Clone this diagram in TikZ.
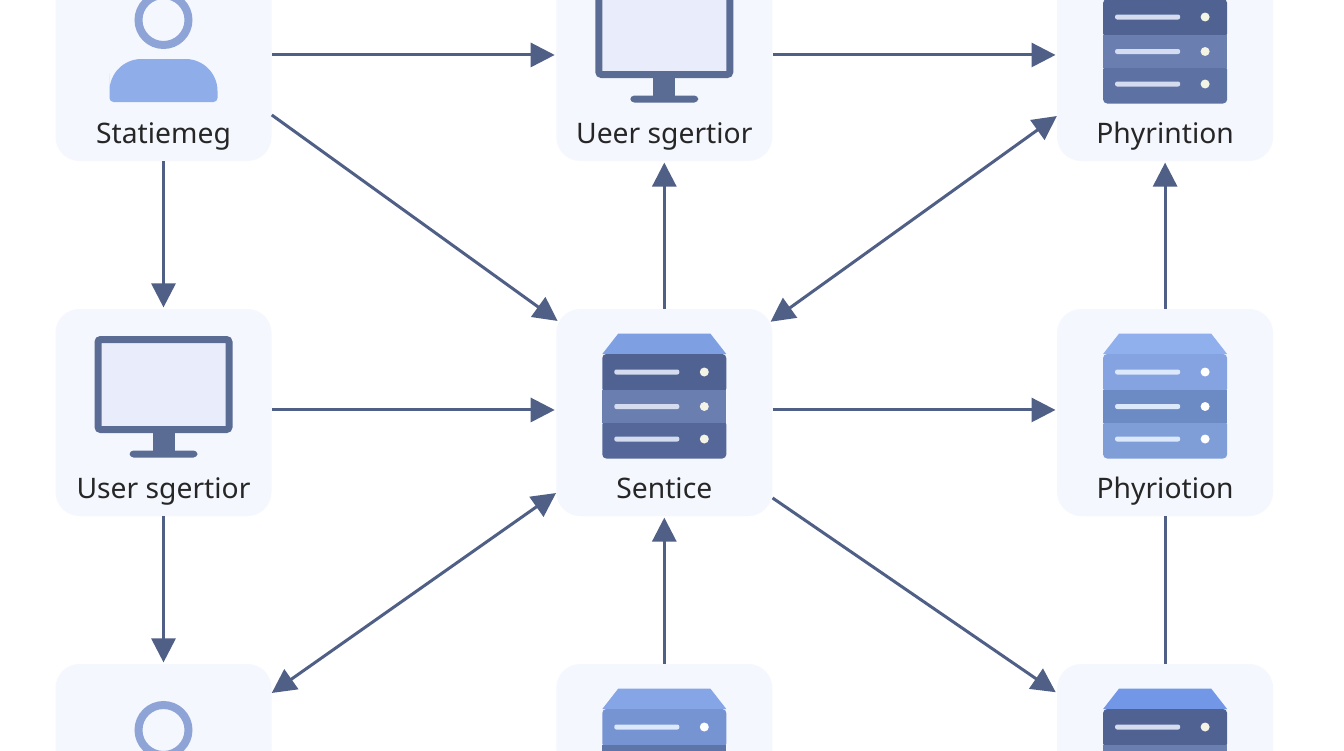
\documentclass[tikz,border=0pt]{standalone}
\usepackage{fontspec}
\setmainfont{Noto Sans}
\usetikzlibrary{arrows.meta,positioning}
\definecolor{tilefill}{HTML}{F4F7FE}
\definecolor{linkcol}{HTML}{505F86}
\definecolor{screencol}{HTML}{E9EDFB}
\definecolor{framecol}{HTML}{5A6B94}
\definecolor{ringcol}{HTML}{8EA3D6}
\definecolor{torsocol}{HTML}{8FADE9}
\definecolor{capa}{HTML}{7F9FE3}
\definecolor{capb}{HTML}{8FB0EC}
\definecolor{capc}{HTML}{86A5E6}
\definecolor{capd}{HTML}{7197E6}
\definecolor{navya}{HTML}{4F6291}
\definecolor{navyb}{HTML}{6A7EAF}
\definecolor{navyc}{HTML}{546798}
\definecolor{navyd}{HTML}{5D71A3}
\definecolor{navye}{HTML}{5E75AA}
\definecolor{palea}{HTML}{84A3E0}
\definecolor{paleb}{HTML}{6C8BC4}
\definecolor{palec}{HTML}{7F9ED8}
\definecolor{paled}{HTML}{7794D2}
\definecolor{slota}{HTML}{D5DCF0}
\definecolor{slotb}{HTML}{DCE8FB}
\definecolor{leda}{HTML}{F3F3E6}
\tikzset{
  tile/.style={fill=tilefill, rounded corners=18pt, minimum width=162pt, minimum height=155.25pt, inner sep=0pt},
  lbl/.style={font=\fontsize{21.2}{24}\selectfont, text=black!85, inner sep=0pt, text height=17pt, text depth=6pt},
  link/.style={line width=2.25pt, draw=linkcol},
  arrow/.style={link, -{Triangle[length=18pt,width=18pt]}, shorten >=1pt},
  twoway/.style={link, {Triangle[length=18pt,width=18pt]}-{Triangle[length=18pt,width=18pt]}},
  pics/server/.style args={#1/#2/#3/#4/#5/#6}{code={
    \fill[#1] (-62,-58.5) -- (-46,-79) -- (46,-79) -- (62,-58.5) -- cycle;
    \fill[#2, rounded corners=3pt] (-62,-58.5) rectangle (62,-20);
    \fill[#4, rounded corners=3pt] (-62,8) rectangle (62,46);
    \fill[#3] (-62,-22.5) rectangle (62,10.5);
    \foreach \y in {-40.5,-6,26.5} {
      \fill[#5, rounded corners=1.5pt] (-50,\y-2.5) rectangle (15,\y+2.5);
      \fill[#6] (40,\y) circle (4.5);
    }
  }},
  pics/monitor/.style={code={
    \fill[framecol] (-11,20) rectangle (11,40);
    \fill[framecol, rounded corners=3pt] (-34,38) rectangle (34,45);
    \draw[framecol, fill=screencol, line width=5.25pt, rounded corners=2pt] (-65.5,-73) rectangle (65.5,17);
  }},
  pics/person/.style={code={
    \draw[ringcol, line width=6pt] (0,-37.5) circle (25);
    \fill[torsocol] (-54,44.5) [rounded corners=3pt] -- (-54,20) [rounded corners=24pt] -- (-54,1.5) -- (54,1.5) [rounded corners=3pt] -- (54,44.5) -- cycle;
  }},
}

\begin{document}
\begin{tikzpicture}[x=0.75pt, y=-0.75pt, node distance=110.6pt and 213.2pt]
  \clip (0,0) rectangle (1344,750);
  \fill[white] (0,0) rectangle (1344,750);
  \node[tile] (stat) at (163.5,57.5) {};
  \node[tile, right=of stat] (usertop) {};
  \node[tile, right=of usertop] (phytop) {};
  \node[tile, below=of stat] (usermid) {};
  \node[tile, right=of usermid] (sentice) {};
  \node[tile, right=of sentice] (phymid) {};
  \node[tile, below=of usermid] (userlow) {};
  \node[tile, right=of userlow] (servlow) {};
  \node[tile, right=of servlow] (phylow) {};

  \pic at (stat) {person};
  \pic at (usertop) {monitor};
  \pic at (phytop) {server={capa/navya/navyb/navyd/slota/leda}};
  \pic at (usermid) {monitor};
  \pic at (sentice) {server={capa/navya/navyb/navyc/slota/leda}};
  \pic at (phymid) {server={capb/palea/paleb/palec/slotb/white}};
  \pic at (userlow) {person};
  \pic at (servlow) {server={capc/paled/navye/navye/slotb/white}};
  \pic at (phylow) {server={capd/navya/navyb/navyb/slota/leda}};

  \node[lbl, above=7.5pt of stat.south] (statlbl) {Statiemeg};
  \node[lbl, above=7.5pt of usertop.south] (usertoplbl) {Ueer sgertior};
  \node[lbl, above=7.5pt of phytop.south] (phytoplbl) {Phyrintion};
  \node[lbl, above=7.5pt of usermid.south] (usermidlbl) {User sgertior};
  \node[lbl, above=7.5pt of sentice.south] (senticelbl) {Sentice};
  \node[lbl, above=7.5pt of phymid.south] (phymidlbl) {Phyriotion};

  \draw[arrow] ([yshift=1.9pt]stat.east) -- ([yshift=1.9pt]usertop.west);
  \draw[arrow] ([yshift=1.9pt]usertop.east) -- ([yshift=1.9pt]phytop.west);
  \draw[arrow] ([yshift=1.9pt]usermid.east) -- ([yshift=1.9pt]sentice.west);
  \draw[arrow] ([yshift=1.9pt]sentice.east) -- ([yshift=1.9pt]phymid.west);
  \draw[arrow] (stat.south) -- (usermid.north);
  \draw[arrow] (usermid.south) -- (userlow.north);
  \draw[arrow] (sentice.north) -- (usertop.south);
  \draw[arrow] (servlow.north) -- (sentice.south);
  \draw[arrow] (phymid.north) -- (phytop.south);
  \draw[link] (phymid.south) -- (phylow.north);
  \draw[arrow] ([yshift=-43.1pt]stat.east) -- ([xshift=2pt,yshift=-9.75pt]sentice.north west);
  \draw[twoway] ([xshift=-1.5pt,yshift=-9.75pt]sentice.north east) -- ([yshift=-43.9pt]phytop.west);
  \draw[twoway] ([yshift=-60.4pt]sentice.west) -- ([yshift=55.9pt]userlow.east);
  \draw[arrow] ([yshift=-64.1pt]sentice.east) -- ([yshift=55.9pt]phylow.west);
\end{tikzpicture}
\end{document}
